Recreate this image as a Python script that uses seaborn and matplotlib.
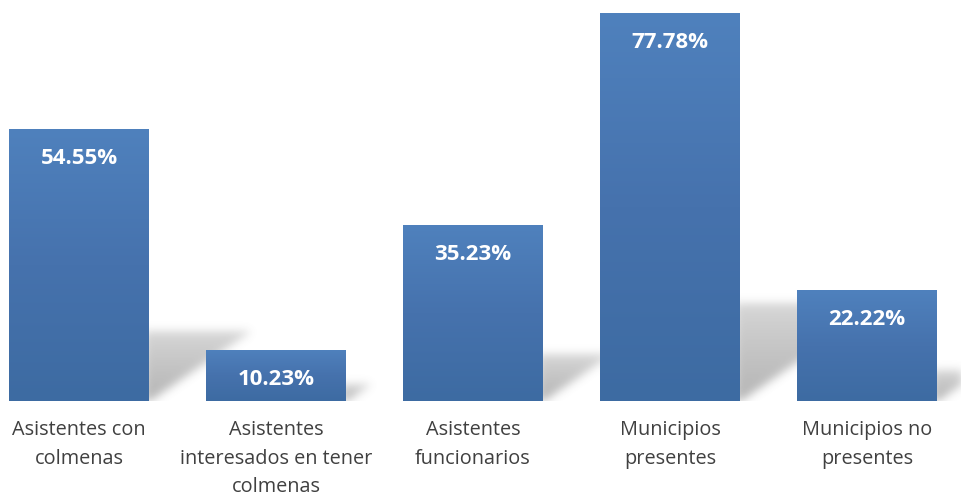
import numpy as np
import pandas as pd
import matplotlib
matplotlib.use("Agg")
import matplotlib.pyplot as plt
import seaborn as sns
from matplotlib.colors import LinearSegmentedColormap

categories = ["Asistentes con\ncolmenas",
              "Asistentes\ninteresados en tener\ncolmenas",
              "Asistentes\nfuncionarios",
              "Municipios\npresentes",
              "Municipios no\npresentes"]
values = [54.55, 10.23, 35.23, 77.78, 22.22]
labels = ["54.55%", "10.23%", "35.23%", "77.78%", "22.22%"]

df = pd.DataFrame({"cat": categories, "val": values})

sns.set_theme(style="white")
plt.rcParams['font.family'] = ['Open Sans', 'DejaVu Sans']

W, H, DPI = 962, 495, 100
fig = plt.figure(figsize=(W / DPI, H / DPI), dpi=DPI)
ax = fig.add_axes([0, 1 - 401 / H, 1, (401 - 13) / H])

sns.barplot(data=df, x="cat", y="val", ax=ax, width=0.71, color="#4F81BD",
            saturation=1, zorder=2)

ax.set_ylim(0, max(values))
ax.set_xlim(-79 / 197, -79 / 197 + W / 197)
for s in ax.spines.values():
    s.set_visible(False)
ax.set_yticks([])
ax.set_xlabel("")
ax.set_ylabel("")
ax.tick_params(axis="x", length=0, pad=14, labelsize=14.3, colors="#404040")
for t in ax.get_xticklabels():
    t.set_linespacing(1.55)
    t.set_verticalalignment("top")

fig.canvas.draw()

# shadows rendered as blurred raster behind bars
aw, ah = W, 401 - 13
shadow = np.zeros((ah, aw))
yy, xx = np.mgrid[0:ah, 0:aw]
inv = ax.transData
for p in ax.patches:
    x0, y0 = p.get_x(), p.get_y()
    x1, y1 = x0 + p.get_width(), y0 + p.get_height()
    (px1, pyb) = inv.transform((x1, y0))
    (_, pyt) = inv.transform((x1, y1))
    hpx = pyt - pyb
    s = 0.24 * hpx + 5
    dx = 1.45 * s
    base_row = ah - (pyb - (1 - 401 / H) * H)
    col = xx - px1
    rise = base_row - yy
    inside = (col >= -5) & (rise >= 0) & (rise <= s) & (rise >= col * s / dx)
    fade = np.clip(1 - rise / (s * 1.4), 0, 1) ** 0.5
    shadow = np.maximum(shadow, inside * fade)

def blur(a, sigma):
    r = int(3 * sigma)
    k = np.exp(-0.5 * (np.arange(-r, r + 1) / sigma) ** 2)
    k /= k.sum()
    a = np.apply_along_axis(lambda m: np.convolve(m, k, mode="same"), 0, a)
    a = np.apply_along_axis(lambda m: np.convolve(m, k, mode="same"), 1, a)
    return a

shadow = blur(shadow, 4.5)
rgba = np.zeros((ah, aw, 4))
rgba[..., :3] = 0.42
rgba[..., 3] = shadow * 0.5
xl, xr = ax.get_xlim()
yb, yt = ax.get_ylim()
ax.imshow(rgba, extent=[xl, xr, yb, yt], aspect="auto", zorder=1,
          interpolation="bilinear")
ax.set_xlim(xl, xr)
ax.set_ylim(yb, yt)

# gradient fill for bars
cmap = LinearSegmentedColormap.from_list("g", ["#3D6BA2", "#4672AD", "#4F81BD"])
grad = np.linspace(0, 1, 256).reshape(-1, 1)
for p, lab in zip(list(ax.patches), labels):
    x0, y0 = p.get_x(), p.get_y()
    x1, y1 = x0 + p.get_width(), y0 + p.get_height()
    im = ax.imshow(grad, extent=[x0, x1, y0, y1], origin="lower", cmap=cmap,
                   aspect="auto", zorder=3, interpolation="bilinear")
    im.set_clip_path(p)
    p.set_facecolor("none")
    p.set_edgecolor("none")
    ax.annotate(lab, (x0 + p.get_width() / 2, y1), xytext=(0, -21),
                textcoords="offset points", ha="center", va="center",
                color="white", fontsize=16, fontweight="bold", zorder=4)
ax.set_xlim(xl, xr)
ax.set_ylim(yb, yt)

fig.savefig("out.png", dpi=DPI)
